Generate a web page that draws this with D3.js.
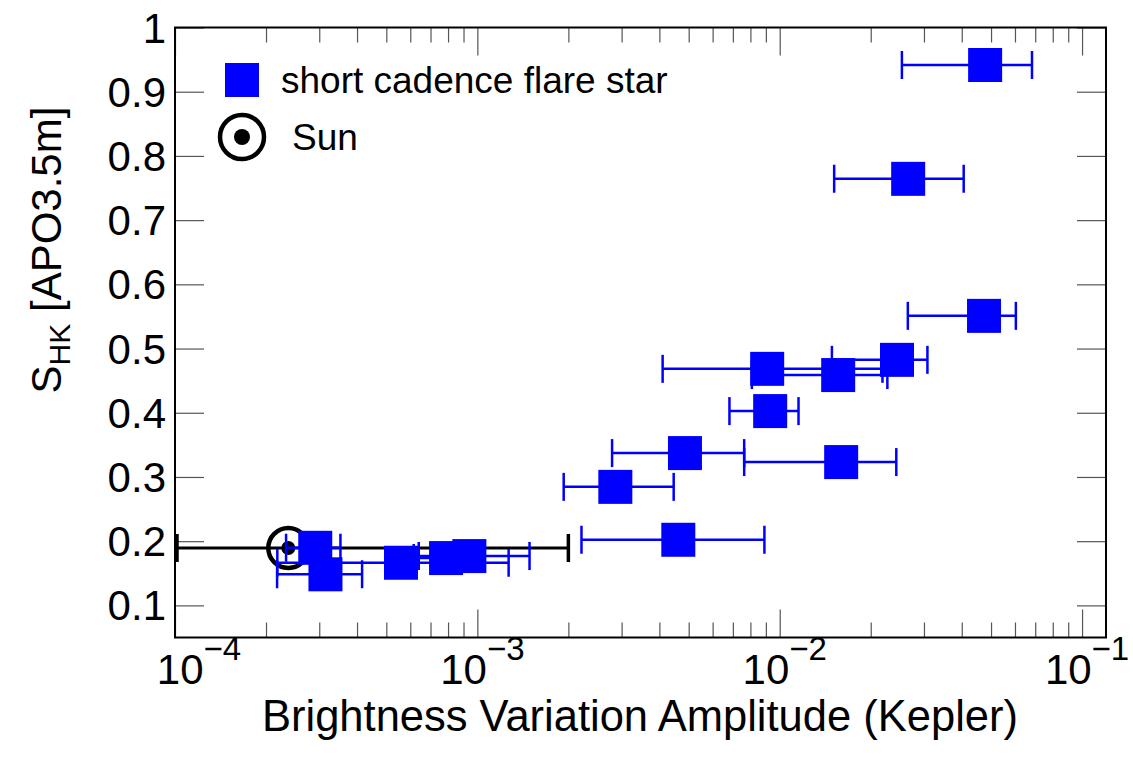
<!DOCTYPE html>
<html><head><meta charset="utf-8">
<script src="https://cdn.jsdelivr.net/npm/d3@7/dist/d3.min.js"></script>
<style>body{margin:0;background:#fff} text{font-family:"Liberation Sans",Arial,Helvetica,sans-serif;fill:#000}</style>
</head><body>
<svg id="c" width="1133" height="762"></svg>
<script>
// ---- data ----
const starAmp   = [0.0478, 0.0266, 0.0474, 0.00909, 0.01561, 0.02443, 0.0093, 0.00486, 0.01597, 0.00286, 0.00462, 0.000291, 0.0003145, 0.000559, 0.000788, 0.000941];
const starShk   = [0.9416, 0.7643, 0.5509, 0.4684, 0.4587, 0.4824, 0.4026, 0.3372, 0.3232, 0.2846, 0.2022, 0.1897, 0.1484, 0.1664, 0.1737, 0.1768];
const starAmpLo = [0.02536, 0.01514, 0.02653, 0.0041, 0.00809, 0.01488, 0.00682, 0.00279, 0.00763, 0.00193, 0.00221, 0.000233, 0.0002176, 0.000218, 0.000616, 0.00064];
const starAmpHi = [0.0683, 0.0406, 0.0604, 0.02187, 0.0227, 0.0308, 0.01154, 0.00763, 0.0243, 0.00446, 0.0089, 0.0003525, 0.0004157, 0.001269, 0.001008, 0.001488];
const sunAmp   = [0.000237];
const sunShk   = [0.1893];
const sunAmpLo = [0.0001];
const sunAmpHi = [0.002];
const yTicks = [0.1, 0.2, 0.3, 0.4, 0.5, 0.6, 0.7, 0.8, 0.9, 1];
const yTickLabels = ["0.1", "0.2", "0.3", "0.4", "0.5", "0.6", "0.7", "0.8", "0.9", "1"];
const xTicks = [1e-4, 1e-3, 1e-2, 1e-1];
const xTickExps = ["\u22124", "\u22123", "\u22122", "\u22121"];
const legendLabels = ["short cadence flare star", "Sun"];
const xTitle = "Brightness Variation Amplitude (Kepler)";

// ---- layout ----
const L = 175, R = 1106, T = 27.5, B = 637.5;
const svg = d3.select("#c");
const x = d3.scaleLog().domain([1e-4, 0.12]).range([L, R]);
const y = d3.scaleLinear().domain([0.05, 1]).range([B, T]);

const minor = [];
for (let e = -4; e <= -1; e++) for (let m = 2; m <= 9; m++) { const v = m * Math.pow(10, e); if (v <= 0.12) minor.push(v); }

const tickCol = "#555";
function tickAxis(axisFn, scale, vals, size, tr) {
  const g = svg.append("g").attr("transform", tr)
    .call(axisFn(scale).tickValues(vals).tickSize(size).tickFormat(""));
  g.select(".domain").remove();
  g.selectAll("line").attr("stroke", tickCol).attr("stroke-width", 1.2);
}
tickAxis(d3.axisBottom, x, xTicks, -28, `translate(0,${B})`);
tickAxis(d3.axisBottom, x, minor, -15, `translate(0,${B})`);
tickAxis(d3.axisTop, x, xTicks, -28, `translate(0,${T})`);
tickAxis(d3.axisTop, x, minor, -15, `translate(0,${T})`);
tickAxis(d3.axisLeft, y, yTicks, -29, `translate(${L},0)`);
tickAxis(d3.axisRight, y, yTicks, -29, `translate(${R},0)`);

// y tick labels
svg.append("g").selectAll("text").data(yTicks).join("text")
  .attr("x", 166).attr("y", d => y(d) + 15)
  .attr("text-anchor", "end").attr("font-size", 42)
  .text((d, i) => yTickLabels[i]);

// x tick labels 10^n (first label nudged right as in the reference)
const xl = svg.append("g").selectAll("text").data(xTicks).join("text")
  .attr("x", (d, i) => x(d) + (i === 0 ? 24 : 5)).attr("y", 684)
  .attr("text-anchor", "middle").attr("font-size", 42);
xl.append("tspan").text("10");
xl.append("tspan").attr("font-size", 33).attr("dy", -24).text((d, i) => xTickExps[i]);

// axis titles
svg.append("text").attr("x", 640).attr("y", 731).attr("text-anchor", "middle")
  .attr("font-size", 43.5).text(xTitle);
const yt = svg.append("text").attr("transform", "translate(61,250) rotate(-90)")
  .attr("text-anchor", "middle").attr("font-size", 42);
yt.append("tspan").text("S");
yt.append("tspan").attr("font-size", 30).attr("dy", 9).text("HK");
yt.append("tspan").attr("dy", -9).text(" [APO3.5m]");

// clip
svg.append("clipPath").attr("id", "clip").append("rect")
  .attr("x", L).attr("y", T).attr("width", R - L).attr("height", B - T);
const plot = svg.append("g").attr("clip-path", "url(#clip)");

const capH = 28;
// Sun
const sunIdx = d3.range(sunAmp.length);
const sg = plot.append("g");
sg.selectAll("line.h").data(sunIdx).join("line")
  .attr("x1", i => Math.max(x(sunAmpLo[i]), L + 1.5)).attr("x2", i => x(sunAmpHi[i]))
  .attr("y1", i => y(sunShk[i])).attr("y2", i => y(sunShk[i]))
  .attr("stroke", "#000").attr("stroke-width", 3);
sunIdx.forEach(i => {
  [Math.max(x(sunAmpLo[i]), L + 2), x(sunAmpHi[i])].forEach(cx => {
    sg.append("line").attr("x1", cx).attr("x2", cx)
      .attr("y1", y(sunShk[i]) - capH / 2).attr("y2", y(sunShk[i]) + capH / 2)
      .attr("stroke", "#000").attr("stroke-width", 3.5);
  });
});
sg.selectAll("circle.o").data(sunIdx).join("circle")
  .attr("cx", i => x(sunAmp[i])).attr("cy", i => y(sunShk[i])).attr("r", 20)
  .attr("fill", "none").attr("stroke", "#000").attr("stroke-width", 4.5);
sg.selectAll("circle.d").data(sunIdx).join("circle")
  .attr("cx", i => x(sunAmp[i])).attr("cy", i => y(sunShk[i])).attr("r", 7)
  .attr("fill", "#000");

// stars: error bars first, then markers
const idx = d3.range(starAmp.length);
const blue = "#0000ff";
const eg = plot.append("g");
eg.selectAll("line.h").data(idx).join("line")
  .attr("x1", i => x(starAmpLo[i])).attr("x2", i => x(starAmpHi[i]))
  .attr("y1", i => y(starShk[i])).attr("y2", i => y(starShk[i]))
  .attr("stroke", blue).attr("stroke-width", 2.5);
idx.forEach(i => {
  [x(starAmpLo[i]), x(starAmpHi[i])].forEach(cx => {
    eg.append("line").attr("x1", cx).attr("x2", cx)
      .attr("y1", y(starShk[i]) - capH / 2).attr("y2", y(starShk[i]) + capH / 2)
      .attr("stroke", blue).attr("stroke-width", 2.5);
  });
});
const ms = 34;
plot.append("g").selectAll("rect").data(idx).join("rect")
  .attr("x", i => x(starAmp[i]) - ms / 2).attr("y", i => y(starShk[i]) - ms / 2)
  .attr("width", ms).attr("height", ms).attr("fill", blue);

// frame
svg.append("rect").attr("x", L).attr("y", T).attr("width", R - L).attr("height", B - T)
  .attr("fill", "none").attr("stroke", "#000").attr("stroke-width", 2);

// legend
const lg = svg.append("g");
lg.append("rect").attr("x", 225).attr("y", 63).attr("width", 34).attr("height", 34).attr("fill", blue);
lg.append("text").attr("x", 281).attr("y", 93).attr("font-size", 37).text(legendLabels[0]);
lg.append("circle").attr("cx", 242).attr("cy", 137).attr("r", 22).attr("fill", "none")
  .attr("stroke", "#000").attr("stroke-width", 4.5);
lg.append("circle").attr("cx", 242).attr("cy", 137).attr("r", 8).attr("fill", "#000");
lg.append("text").attr("x", 292).attr("y", 150).attr("font-size", 37).text(legendLabels[1]);
</script>
</body></html>
